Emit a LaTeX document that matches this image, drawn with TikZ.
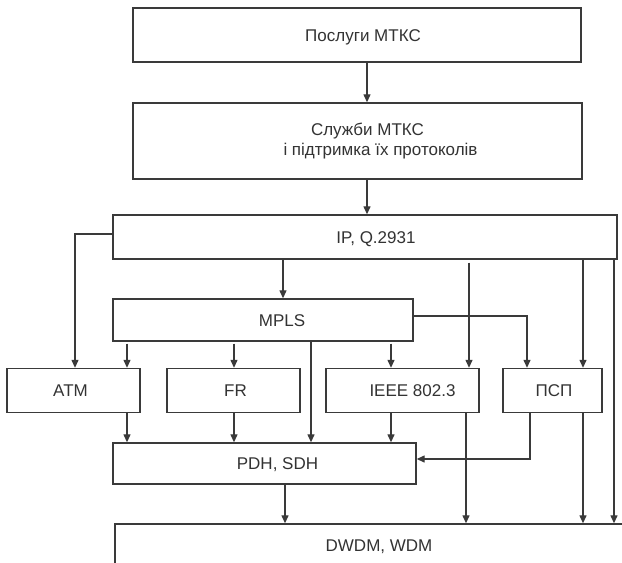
\documentclass[tikz,border=0pt]{standalone}
\usepackage{fontspec}
\setmainfont{Liberation Sans}
\usetikzlibrary{arrows.meta}
\definecolor{ink}{HTML}{3A3A3A}
\definecolor{txtc}{HTML}{333333}
\begin{document}
\begin{tikzpicture}[x=1pt,y=-1pt,
  boxbase/.style={draw=ink, line width=1.4pt, fill=white, inner sep=0pt,
    text=txtc, font=\fontsize{17}{20}\selectfont},
  box/.style={boxbase, text height=12pt, text depth=0pt},
  arr/.style={draw=ink, line width=1.3pt, -{Triangle[length=8pt,width=7pt]}},
]
\useasboundingbox (0,0) rectangle (622,563);
\clip (0,0) rectangle (622,563);

% columns and rows used by the connectors
\coordinate (cA) at (75,0);
\coordinate (cB) at (127,0);
\coordinate (cC) at (234,0);
\coordinate (cD) at (283,0);
\coordinate (cN) at (285,0);
\coordinate (cE) at (311,0);
\coordinate (cM) at (367,0);
\coordinate (cF) at (391,0);
\coordinate (cG) at (466,0);
\coordinate (cH) at (469,0);
\coordinate (cI) at (527,0);
\coordinate (cJ) at (530,0);
\coordinate (cK) at (583,0);
\coordinate (cL) at (614,0);
\coordinate (rIP) at (0,234);
\coordinate (rMP) at (0,316);
\coordinate (rPS) at (0,459);

% boxes
\node[box, minimum width=448pt, minimum height=54pt] (svc) at (357,35)
  {\hspace*{12pt}Послуги МТКС};
\node[boxbase, minimum width=449pt, minimum height=76pt, align=center] (sup) at (357.5,141)
  {\hspace*{20pt}Служби МТКС\\\hspace*{46pt}і підтримка їх протоколів};
\node[box, minimum width=504pt, minimum height=44pt] (ip) at (365,237)
  {\hspace*{22pt}IP, Q.2931};
\node[box, minimum width=300pt, minimum height=42pt] (mpls) at (263,320)
  {\hspace*{38pt}MPLS};
\node[box, minimum width=133pt, minimum height=44pt] (atm) at (73.5,390.5)
  {ATM\hspace*{6pt}};
\node[box, minimum width=133pt, minimum height=44pt] (fr) at (233.5,390.5)
  {\hspace*{4pt}FR};
\node[box, minimum width=153pt, minimum height=44pt] (ieee) at (402.5,390.5)
  {\hspace*{20pt}IEEE 802.3};
\node[box, minimum width=99pt, minimum height=44pt] (psp) at (552.5,390.5)
  {\hspace*{3pt}ПСП};
\node[box, minimum width=303pt, minimum height=41pt] (pdh) at (264.5,463.5)
  {\hspace*{26pt}PDH, SDH};
\node[box, minimum width=528pt, minimum height=42pt] (dwdm) at (379,545)
  {DWDM, WDM};

% connectors
\draw[arr] (svc.south -| cM) -- (sup.north -| cM);
\draw[arr] (sup.south -| cM) -- (ip.north -| cM);
\draw[arr] (ip.west |- rIP) -| (atm.north -| cA);
\draw[arr] (ip.south -| cD) -- (mpls.north -| cD);
\draw[arr, shorten <=3pt] (ip.south -| cH) -- (ieee.north -| cH);
\draw[arr] (ip.south -| cK) -- (psp.north -| cK);
\draw[arr] (ip.south -| cL) -- (dwdm.north -| cL);
\draw[arr, shorten <=2pt] (mpls.south -| cB) -- (atm.north -| cB);
\draw[arr, shorten <=2pt] (mpls.south -| cC) -- (fr.north -| cC);
\draw[arr] (mpls.south -| cE) -- (pdh.north -| cE);
\draw[arr, shorten <=2pt] (mpls.south -| cF) -- (ieee.north -| cF);
\draw[arr] (mpls.east |- rMP) -| (psp.north -| cI);
\draw[arr] (atm.south -| cB) -- (pdh.north -| cB);
\draw[arr] (fr.south -| cC) -- (pdh.north -| cC);
\draw[arr] (ieee.south -| cF) -- (pdh.north -| cF);
\draw[arr] (ieee.south -| cG) -- (dwdm.north -| cG);
\draw[arr] (psp.south -| cJ) |- (pdh.east |- rPS);
\draw[arr] (psp.south -| cK) -- (dwdm.north -| cK);
\draw[arr] (pdh.south -| cN) -- (dwdm.north -| cN);
\end{tikzpicture}
\end{document}
